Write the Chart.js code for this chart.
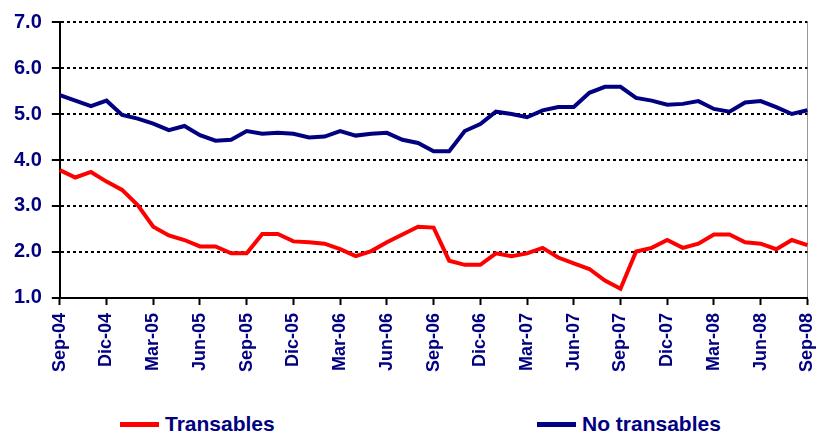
<!DOCTYPE html>
<html>
<head>
<meta charset="utf-8">
<script src="https://cdn.jsdelivr.net/npm/chart.js@4/dist/chart.umd.min.js"></script>
<style>
  html, body { margin: 0; padding: 0; background: #fff; overflow: hidden; }
  #wrap { position: relative; width: 821px; height: 442px; overflow: hidden; }
  #chart-box { position: absolute; left: 0; top: 0; width: 837px; height: 380px; }
  .legend { position: absolute; top: 412px; font: bold 21px "Liberation Sans", Arial, sans-serif; color: #000080; display: flex; align-items: center; }
  .legend .swatch { display: inline-block; width: 39px; height: 5px; margin-right: 6px; }
</style>
</head>
<body>
<div id="wrap">
  <div id="chart-box"><canvas id="chart"></canvas></div>
  <div class="legend" style="left:120px"><span class="swatch" style="background:#ff0000"></span>Transables</div>
  <div class="legend" style="left:537px"><span class="swatch" style="background:#000080"></span>No transables</div>
</div>
<script>
// months Sep-04 .. Sep-08
const monthNames = ['Sep', 'Oct', 'Nov', 'Dic', 'Ene', 'Feb', 'Mar', 'Abr', 'May', 'Jun', 'Jul', 'Ago'];
const labels = [];
for (let i = 0; i < 49; i++) {
  const yr = 4 + Math.floor((i + 8) / 12);
  labels.push(monthNames[i % 12] + '-' + String(yr).padStart(2, '0'));
}

const transables = [
  3.78, 3.62, 3.74, 3.53, 3.35, 3.02, 2.55, 2.36, 2.26, 2.12,
  2.12, 1.97, 1.97, 2.39, 2.39, 2.23, 2.21, 2.18, 2.06, 1.91,
  2.02, 2.21, 2.38, 2.55, 2.53, 1.81, 1.72, 1.72, 1.97, 1.91,
  1.97, 2.09, 1.88, 1.75, 1.63, 1.38, 1.20, 2.01, 2.09, 2.26,
  2.09, 2.18, 2.38, 2.38, 2.21, 2.18, 2.06, 2.26, 2.15
];

const noTransables = [
  5.41, 5.29, 5.17, 5.29, 4.98, 4.90, 4.79, 4.65, 4.74, 4.54,
  4.42, 4.44, 4.63, 4.57, 4.59, 4.57, 4.49, 4.51, 4.63, 4.53,
  4.57, 4.59, 4.44, 4.37, 4.19, 4.19, 4.63, 4.78, 5.05, 5.00,
  4.93, 5.08, 5.15, 5.15, 5.46, 5.59, 5.59, 5.35, 5.29, 5.20,
  5.22, 5.28, 5.11, 5.05, 5.25, 5.28, 5.15, 5.00, 5.08
];

const yTicks = [1, 2, 3, 4, 5, 6, 7];

const navy = '#000080';
const red = '#ff0000';
const font = '"Liberation Sans", Arial, sans-serif';

new Chart(document.getElementById('chart'), {
  type: 'line',
  data: {
    labels,
    datasets: [
      { label: 'Transables', data: transables, borderColor: red, backgroundColor: red, borderWidth: 4, pointRadius: 0, tension: 0 },
      { label: 'No transables', data: noTransables, borderColor: navy, backgroundColor: navy, borderWidth: 4, pointRadius: 0, tension: 0 }
    ]
  },
  options: {
    responsive: true,
    maintainAspectRatio: false,
    animation: false,
    layout: { padding: { top: 4, right: 0, left: 4, bottom: 0 } },
    plugins: { legend: { display: false }, tooltip: { enabled: false } },
    scales: {
      x: {
        offset: false,
        border: { color: '#000', width: 2 },
        grid: {
          drawOnChartArea: true,
          color: ctx => ctx.index === labels.length - 1 ? '#999' : 'transparent',
          lineWidth: 1,
          tickColor: ctx => ctx.index % 3 === 0 ? '#000' : 'transparent',
          tickLength: 7,
          tickWidth: 2
        },
        ticks: {
          autoSkip: false,
          maxRotation: 90,
          minRotation: 90,
          color: navy,
          padding: 8,
          font: { family: font, size: 18, weight: 'bold' },
          callback: (v, i) => i % 3 === 0 ? labels[i] : ''
        }
      },
      y: {
        min: 1,
        max: 7,
        afterBuildTicks: axis => { axis.ticks = yTicks.map(v => ({ value: v })); },
        border: { color: '#000', width: 2, dash: [3, 3] },
        grid: {
          color: ctx => ctx.tick && ctx.tick.value === 1 ? 'transparent' : '#000',
          lineWidth: 2,
          tickColor: '#000',
          tickLength: 8,
          tickWidth: 2
        },
        ticks: {
          color: navy,
          padding: 10,
          font: { family: font, size: 20, weight: 'bold' },
          callback: v => v.toFixed(1)
        }
      }
    }
  }
});
</script>
</body>
</html>
